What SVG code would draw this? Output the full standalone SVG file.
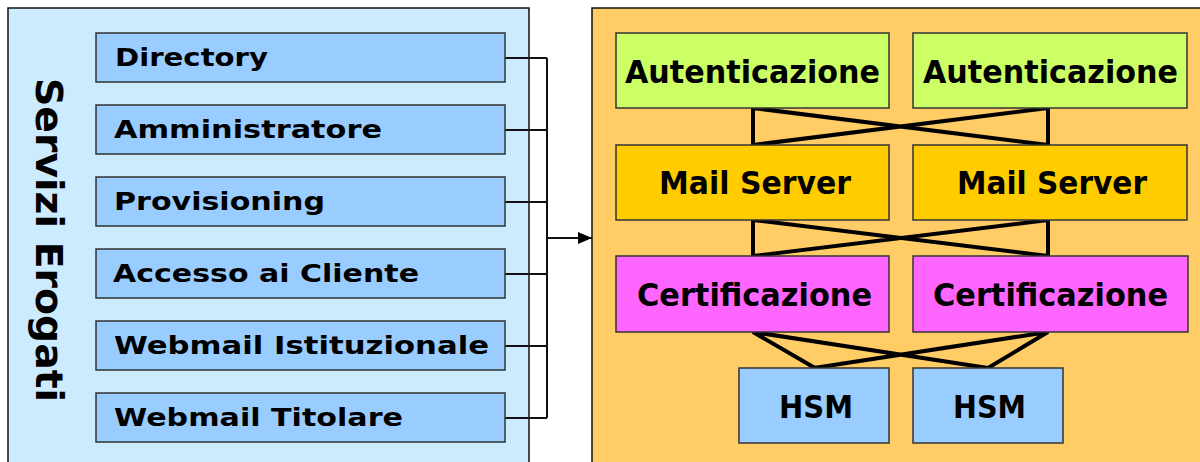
<svg xmlns="http://www.w3.org/2000/svg" width="1200" height="462" viewBox="0 0 1200 462">
  <style>
    .panel { stroke: #111; stroke-width: 1.5; }
    .box { stroke: #333; stroke-width: 1.5; }
    .svc { fill: #99CCFF; }
    .auth { fill: #CCFF66; }
    .mail { fill: #FFCC00; }
    .cert { fill: #FF66FF; }
    .hsm { fill: #99CCFF; }
    text { font-family: "DejaVu Sans", Verdana, sans-serif; font-weight: bold; fill: #000; }
    .lbl { font-size: 25px; }
    .big { font-size: 32px; text-anchor: middle; }
    .wire { fill: none; stroke: #111; stroke-width: 2; }
    .cross { fill: none; stroke: #000; stroke-width: 4; stroke-linejoin: miter; }
  </style>
  <defs>
    <marker id="arrow" viewBox="0 0 14 12" refX="14" refY="6" markerWidth="14" markerHeight="12" markerUnits="userSpaceOnUse" orient="auto">
      <path d="M0,0 L14,6 L0,12 Z" fill="#000"/>
    </marker>
  </defs>

  <rect width="1200" height="462" fill="#fff"/>

  <!-- service panel -->
  <g id="servizi">
    <rect class="panel" x="8" y="8" width="521" height="470" fill="#CCEBFF"/>
    <text transform="translate(36,78) rotate(90)" font-size="37" textLength="324" lengthAdjust="spacingAndGlyphs">Servizi Erogati</text>
  </g>

  <!-- infrastructure panel -->
  <g id="infrastruttura">
    <rect class="panel" x="592" y="8" width="640" height="470" fill="#FFCC66"/>
  </g>

  <!-- connectors -->
  <g id="connectors">
    <path class="wire" d="M505,58 H547 M505,130 H547 M505,202 H547 M505,274 H547 M505,346 H547 M505,418 H547 M547,58 V418"/>
    <line class="wire" x1="547" y1="238" x2="592" y2="238" marker-end="url(#arrow)"/>
    <path class="cross" d="M753,108 V145 L1048,108 V145 Z"/>
    <path class="cross" d="M753,220 V256 L1048,220 V256 Z"/>
    <path class="cross" d="M815,368 L753,332 L988,368 M814,368 L1048,332 L988,368"/>
  </g>

  <!-- services -->
  <g id="directory">
    <rect class="box svc" x="96" y="33" width="409" height="49"/>
    <text class="lbl" x="115" y="66" textLength="153" lengthAdjust="spacingAndGlyphs">Directory</text>
  </g>
  <g id="amministratore">
    <rect class="box svc" x="96" y="105" width="409" height="49"/>
    <text class="lbl" x="114" y="138" textLength="268" lengthAdjust="spacingAndGlyphs">Amministratore</text>
  </g>
  <g id="provisioning">
    <rect class="box svc" x="96" y="177" width="409" height="49"/>
    <text class="lbl" x="114" y="210" textLength="211" lengthAdjust="spacingAndGlyphs">Provisioning</text>
  </g>
  <g id="accesso">
    <rect class="box svc" x="96" y="249" width="409" height="49"/>
    <text class="lbl" x="113" y="282" textLength="306" lengthAdjust="spacingAndGlyphs">Accesso ai Cliente</text>
  </g>
  <g id="webmail-istituzionale">
    <rect class="box svc" x="96" y="321" width="409" height="49"/>
    <text class="lbl" x="114" y="354" textLength="375" lengthAdjust="spacingAndGlyphs">Webmail Istituzionale</text>
  </g>
  <g id="webmail-titolare">
    <rect class="box svc" x="96" y="393" width="409" height="49"/>
    <text class="lbl" x="114" y="426" textLength="289" lengthAdjust="spacingAndGlyphs">Webmail Titolare</text>
  </g>

  <!-- authentication -->
  <g id="autenticazione-1">
    <rect class="box auth" x="616" y="33" width="273" height="75"/>
    <text class="big" x="752.5" y="83" textLength="255" lengthAdjust="spacingAndGlyphs">Autenticazione</text>
  </g>
  <g id="autenticazione-2">
    <rect class="box auth" x="913" y="33" width="274" height="75"/>
    <text class="big" x="1050.5" y="83" textLength="255" lengthAdjust="spacingAndGlyphs">Autenticazione</text>
  </g>

  <!-- mail servers -->
  <g id="mail-server-1">
    <rect class="box mail" x="616" y="145" width="273" height="75"/>
    <text class="big" x="755" y="194" textLength="192" lengthAdjust="spacingAndGlyphs">Mail Server</text>
  </g>
  <g id="mail-server-2">
    <rect class="box mail" x="913" y="145" width="274" height="75"/>
    <text class="big" x="1052" y="194" textLength="190" lengthAdjust="spacingAndGlyphs">Mail Server</text>
  </g>

  <!-- certification -->
  <g id="certificazione-1">
    <rect class="box cert" x="616" y="256" width="273" height="76"/>
    <text class="big" x="754.5" y="306" textLength="235" lengthAdjust="spacingAndGlyphs">Certificazione</text>
  </g>
  <g id="certificazione-2">
    <rect class="box cert" x="913" y="256" width="275" height="76"/>
    <text class="big" x="1050.5" y="306" textLength="235" lengthAdjust="spacingAndGlyphs">Certificazione</text>
  </g>

  <!-- HSM -->
  <g id="hsm-1">
    <rect class="box hsm" x="739" y="368" width="150" height="75"/>
    <text class="big" x="816" y="418" textLength="74" lengthAdjust="spacingAndGlyphs">HSM</text>
  </g>
  <g id="hsm-2">
    <rect class="box hsm" x="913" y="368" width="150" height="75"/>
    <text class="big" x="989.5" y="418" textLength="73" lengthAdjust="spacingAndGlyphs">HSM</text>
  </g>
</svg>
